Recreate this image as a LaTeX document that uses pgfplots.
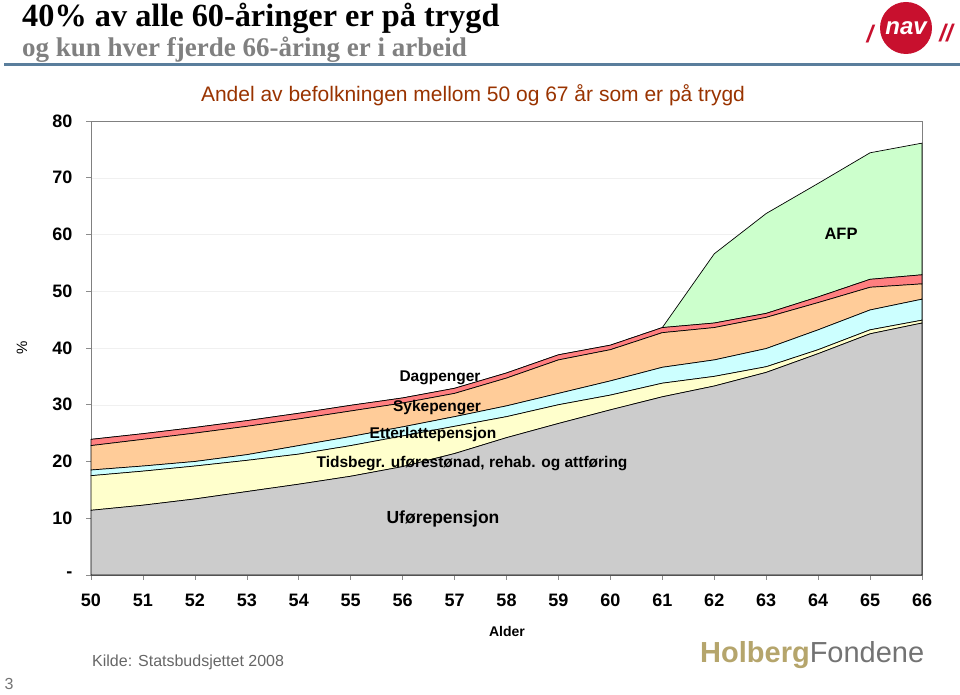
\documentclass[border=0pt]{standalone}
\usepackage{fontspec}
\setmainfont{Liberation Sans}
\newfontfamily\titlefont{Liberation Serif}
\usepackage{pgfplots}
\pgfplotsset{compat=1.18}
\usepackage{pgfplotstable}

\definecolor{cgray}{HTML}{CCCCCC}
\definecolor{cyel}{HTML}{FFFFCC}
\definecolor{ccyan}{HTML}{CCFFFF}
\definecolor{corange}{HTML}{FFCC99}
\definecolor{cred}{HTML}{FF7F80}
\definecolor{cgreen}{HTML}{CCFFCC}
\definecolor{ctitle}{HTML}{993300}
\definecolor{cblue}{HTML}{5A7E9C}
\definecolor{navred}{HTML}{C8102E}
\definecolor{holb}{HTML}{B5A56C}

\pgfplotstableread{
age uf tb et sy dp afp
50 11.4 6.1 1.0 4.3 1.1 0
51 12.3 6.0 0.9 4.7 1.0 0
52 13.4 5.8 0.8 5.0 1.0 0
53 14.7 5.5 1.0 5.0 1.0 0
54 16.0 5.3 1.5 4.7 1.0 0
55 17.4 5.4 1.6 4.5 1.0 0
56 19.1 5.4 1.6 4.2 0.9 0
57 21.4 4.8 1.7 4.1 0.9 0
58 24.2 3.7 1.9 4.9 0.9 0
59 26.7 3.3 2.0 5.9 0.9 0
60 29.1 2.6 2.5 5.5 0.8 0
61 31.4 2.4 2.8 6.1 0.9 0
62 33.3 1.7 2.9 5.7 0.8 12.2
63 35.7 1.0 3.2 5.5 0.7 17.6
64 39.0 0.7 3.5 4.8 1.0 20.0
65 42.5 0.7 3.5 4.0 1.4 22.3
66 44.4 0.5 3.7 2.7 1.6 23.2
}\data

\begin{document}
\begin{tikzpicture}[x=1pt,y=1pt]
\path[use as bounding box] (0,0) rectangle (960,695);

% header
\node[anchor=base west, inner sep=0pt, font=\titlefont\bfseries\fontsize{32.3}{34}\selectfont] at (22,668) {40\% av alle 60-åringer er på trygd};
\node[anchor=base west, inner sep=0pt, text=black!50, font=\titlefont\bfseries\fontsize{27}{28}\selectfont] at (22,638) {og kun hver fjerde 66-åring er i arbeid};
\draw[cblue, line width=3pt] (4,630) -- (960,630);

% NAV logo
\fill[navred] (906,667) circle (26);
\node[text=white, font=\bfseries\itshape\fontsize{24}{24}\selectfont] at (906,667) {nav};
\node[text=navred, font=\bfseries\itshape\fontsize{24}{24}\selectfont] at (870,661) {/};
\node[text=navred, font=\bfseries\itshape\fontsize{24}{24}\selectfont] at (946,662) {//};

\begin{axis}[
  at={(91pt,120pt)}, anchor=south west,
  scale only axis, width=831pt, height=454pt,
  xmin=50, xmax=66, ymin=0, ymax=80,
  stack plots=y,
  axis line style={draw=black!50},
  tick pos=left, tick align=outside,
  major tick length=5pt,
  tick style={draw=black!45, line width=0.6pt},
  xtick={50,...,66},
  xticklabels={50,51,52,53,54,55,56,57,58,59,60,61,62,63,64,65,66},
  ytick={0,10,...,80},
  yticklabels={-,10,20,30,40,50,60,70,80},
  xticklabel style={font=\bfseries\fontsize{18}{18}\selectfont, text height=13pt, text depth=0pt, yshift=-10pt},
  yticklabel style={font=\bfseries\fontsize{18}{18}\selectfont, xshift=-10pt},
  ymajorgrids,
  major grid style={draw=black!6},
  clip=false,
]
\addplot[fill=cgray, draw=black, line width=0.7pt] table[x=age, y=uf] {\data} \closedcycle;
\addplot[fill=cyel, draw=black, line width=0.7pt] table[x=age, y=tb] {\data} \closedcycle;
\addplot[fill=ccyan, draw=black, line width=0.7pt] table[x=age, y=et] {\data} \closedcycle;
\addplot[fill=corange, draw=black, line width=0.7pt] table[x=age, y=sy] {\data} \closedcycle;
\addplot[fill=cred, draw=black, line width=0.7pt] table[x=age, y=dp] {\data} \closedcycle;
\addplot[fill=cgreen, draw=black, line width=0.7pt] table[x=age, y=afp] {\data} \closedcycle;
\end{axis}

% area labels
\node[font=\bfseries\fontsize{15.5}{16}\selectfont] at (440,317) {Dagpenger};
\node[font=\bfseries\fontsize{15.5}{16}\selectfont] at (437,287) {Sykepenger};
\node[font=\bfseries\fontsize{15.5}{16}\selectfont] at (433,261) {Etterlattepensjon};
\node[font=\bfseries\fontsize{15.5}{16}\selectfont] at (472,231) {Tidsbegr. uførestønad, rehab. og attføring};
\node[font=\bfseries\fontsize{17.5}{18}\selectfont] at (443,176) {Uførepensjon};
\node[font=\bfseries\fontsize{16.5}{17}\selectfont] at (841,461) {AFP};

\node[text=ctitle, font=\fontsize{21}{22}\selectfont] at (473,600) {Andel av befolkningen mellom 50 og 67 år som er på trygd};
\node[rotate=90, font=\fontsize{15}{15}\selectfont] at (22,347) {\%};
\node[font=\bfseries\fontsize{14}{14}\selectfont] at (507,64) {Alder};
\node[anchor=west, inner sep=0pt, text=black!60, font=\fontsize{16}{16}\selectfont] at (92,33) {Kilde: Statsbudsjettet 2008};
\node[text=black!55, font=\fontsize{16}{16}\selectfont] at (9,11) {3};
\node[anchor=west, inner sep=0pt, font=\fontsize{29}{29}\selectfont] at (700,40) {\textcolor{holb}{\bfseries Holberg}\textcolor{black!55}{Fondene}};
\end{tikzpicture}
\end{document}
